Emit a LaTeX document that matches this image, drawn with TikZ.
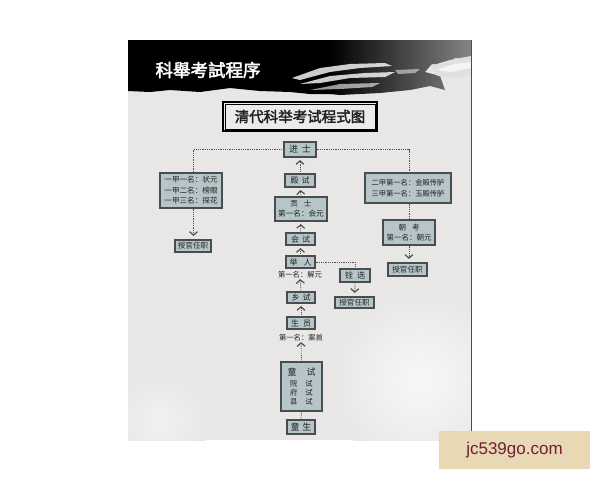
\documentclass[tikz,border=0pt]{standalone}
\usepackage{fontspec}
\setmainfont{Noto Sans CJK SC}
\newfontfamily\cjkbold{Noto Sans CJK SC}[FakeBold=2.5]
\newfontfamily\wmfont{Liberation Sans}
\usetikzlibrary{arrows.meta}
\definecolor{boxfill}{HTML}{B5C5C8}
\definecolor{boxline}{HTML}{4A4D4F}
\definecolor{txt}{HTML}{222222}
\definecolor{panel}{HTML}{E9E6E6}
\definecolor{flowc}{HTML}{505050}
\definecolor{wmfill}{HTML}{E8D8B4}
\definecolor{wmtext}{HTML}{6E1F35}
\tikzset{
  box/.style={draw=boxline, fill=boxfill, line width=1.1pt, inner sep=0pt, text=txt,
    font=\fontsize{8}{9}\selectfont, align=center},
  lbl/.style={inner sep=0pt, text=txt, font=\fontsize{7.3}{8}\selectfont},
  flow/.style={draw=flowc, line width=0.8pt, dash pattern=on 0.8pt off 1pt},
  flowup/.style={flow, -{Straight Barb[length=3.5pt,width=8pt,line width=1.2pt]}, shorten >=2.5pt},
  flowdown/.style={flow, -{Straight Barb[length=3.5pt,width=8pt,line width=1.2pt]}, shorten >=3.5pt},
  streak/.style={fill=white, opacity=0.8},
}
\begin{document}
\begin{tikzpicture}[x=1pt,y=-1pt]
\useasboundingbox (0,0) rectangle (600,480);
\fill[white] (0,0) rectangle (600,480);
% panel
\fill[panel] (128,40) rectangle (471,440);
\begin{scope}
\clip (128,40) rectangle (471,440);
\shade[inner color=white!70!panel, outer color=panel] (420,380) circle (90);
\shade[inner color=white!40!panel, outer color=panel] (160,420) circle (50);
\end{scope}
% top band
\shade[left color=black, right color=black!48] (330,40) -- (471,40) -- (471,60) -- (455,58)
  -- (445,66) -- (432,64) -- (425,72) -- (440,76) -- (445,90) -- (430,86) -- (410,90)
  -- (380,93) -- (340,95) -- (330,94) -- cycle;
\fill[black] (128,40) -- (331,40) -- (331,94) -- (310,94) -- (290,92) -- (260,91) -- (230,88)
  -- (200,92) -- (170,90) -- (150,92) -- (128,91) -- cycle;
\fill[streak] (292,78) -- (320,68) -- (350,64) -- (385,63) -- (392,66) -- (360,68) -- (330,72) -- (300,80) -- cycle;
\fill[streak] (300,84) -- (330,76) -- (365,73) -- (395,72) -- (385,77) -- (350,78) -- (320,83) -- cycle;
\fill[streak, opacity=0.6] (310,90) -- (340,84) -- (380,83) -- (372,87) -- (340,89) -- cycle;
\fill[streak, opacity=0.5] (395,70) -- (420,69) -- (415,73) -- (398,74) -- cycle;
\fill[white!88!black] (430,66) -- (450,60) -- (471,56) -- (471,74) -- (455,78) -- (438,76) -- cycle;
\fill[white, opacity=0.7] (436,70) -- (455,64) -- (471,62) -- (471,68) -- (452,72) -- cycle;
\draw[black!70, line width=0.8pt] (471,40) -- (471,440);
% title
\node[text=white, inner sep=0pt, font=\cjkbold\fontsize{17.5}{18}\selectfont] (title) at (208,70) {科舉考試程序};
% sub-title box
\node[draw=black, line width=2pt, fill=white!92!black, minimum width=154pt, minimum height=29pt, inner sep=0pt] (sub) at (300,116.5) {};
\draw[black, line width=0.6pt] ([xshift=3pt,yshift=-3pt]sub.north west) rectangle ([xshift=-3pt,yshift=3pt]sub.south east);
\node[inner sep=0pt, text=txt, font=\cjkbold\fontsize{14.5}{15}\selectfont] (subt) at (300,116.5) {清代科举考试程式图};
% central column
\node[box, minimum width=32pt, minimum height=15pt, font=\fontsize{9}{10}\selectfont] (js) at (300,149.5) {进\hspace{4pt}士};
\node[box, minimum width=30pt, minimum height=13pt] (ds) at (300,180.5) {殿\hspace{3pt}试};
\node[box, minimum width=52pt, minimum height=24pt, font=\fontsize{7.6}{10}\selectfont] (gs) at (301,209) {贡\hspace{6pt}士\\第一名：会元};
\node[box, minimum width=29pt, minimum height=12pt] (hs) at (300.5,239) {会\hspace{3pt}试};
\node[box, minimum width=29pt, minimum height=12pt] (jr) at (300.5,262) {举\hspace{6pt}人};
\node[lbl] (l1) at (300,274.5) {第一名：解元};
\node[box, minimum width=28pt, minimum height=11pt] (xs) at (301,297.5) {乡\hspace{3pt}试};
\node[box, minimum width=28pt, minimum height=12pt] (sy) at (301,323) {生\hspace{4pt}员};
\node[lbl] (l2) at (301,337.5) {第一名：案首};
\node[box, minimum width=41pt, minimum height=49pt, font=\fontsize{7.3}{9}\selectfont] (ts) at (301.5,386.5)
  {{\fontsize{9}{11}\selectfont 童\hspace{10pt}试}\\[2pt]院\hspace{8pt}试\\府\hspace{8pt}试\\县\hspace{8pt}试};
\node[box, minimum width=28pt, minimum height=14pt, font=\fontsize{9}{10}\selectfont] (tsh) at (301,427) {童\hspace{3pt}生};
% left branch
\node[box, minimum width=62pt, minimum height=35pt, font=\fontsize{7.6}{10.5}\selectfont] (L) at (191,190.5)
  {一甲一名：状元\\一甲二名：榜眼\\一甲三名：探花};
\node[box, minimum width=36pt, minimum height=12pt, font=\fontsize{7.6}{9}\selectfont] (Lg) at (193,246) {授官任职};
% right branch
\node[box, minimum width=86pt, minimum height=30pt, font=\fontsize{7.3}{10.5}\selectfont] (R) at (408,188)
  {二甲第一名：金殿传胪\\三甲第一名：玉殿传胪};
\node[box, minimum width=52pt, minimum height=25pt, font=\fontsize{7.5}{10.5}\selectfont] (ck) at (409,232.5) {朝\hspace{6pt}考\\第一名：朝元};
\node[box, minimum width=39pt, minimum height=13pt, font=\fontsize{7.6}{9}\selectfont] (Rg) at (407.5,269.5) {授官任职};
% middle branch
\node[box, minimum width=30pt, minimum height=13pt] (qx) at (355,275.5) {铨\hspace{4pt}选};
\node[box, minimum width=39pt, minimum height=11pt, font=\fontsize{7.6}{9}\selectfont] (Mg) at (354.5,302.5) {授官任职};
% coordinates
\coordinate (cl) at (193.5,149.5);
\coordinate (cr) at (409,149.5);
\coordinate (cm) at (355,262);
% connectors
\draw[flowup] (ds.north) -- (js.south);
\draw[flowup] (gs.north) -- (ds.south);
\draw[flowup] (hs.north) -- (gs.south);
\draw[flowup] (jr.north) -- (hs.south);
\draw[flowup, shorten >=1pt] (xs.north) -- (l1.south);
\draw[flowup] (sy.north) -- (xs.south);
\draw[flowup, shorten >=1pt] (ts.north) -- (l2.south);
\draw[flow] (tsh.north) -- (ts.south);
\draw[flow] (js.west) -- (cl) -- (cl |- L.north);
\draw[flowdown] (cl |- L.south) -- (cl |- Lg.north);
\draw[flow] (js.east) -- (cr) -- (cr |- R.north);
\draw[flow] (cr |- R.south) -- (cr |- ck.north);
\draw[flowdown] (cr |- ck.south) -- (cr |- Rg.north);
\draw[flow] (jr.east) -- (cm) -- (qx.north);
\draw[flowdown] (qx.south) -- (Mg.north);
% watermark
\node[fill=wmfill, minimum width=151pt, minimum height=38pt, inner sep=0pt, text=wmtext,
  font=\wmfont\fontsize{17}{18}\selectfont] (wm) at (514.5,450) {jc539go.com};
\end{tikzpicture}
\end{document}
